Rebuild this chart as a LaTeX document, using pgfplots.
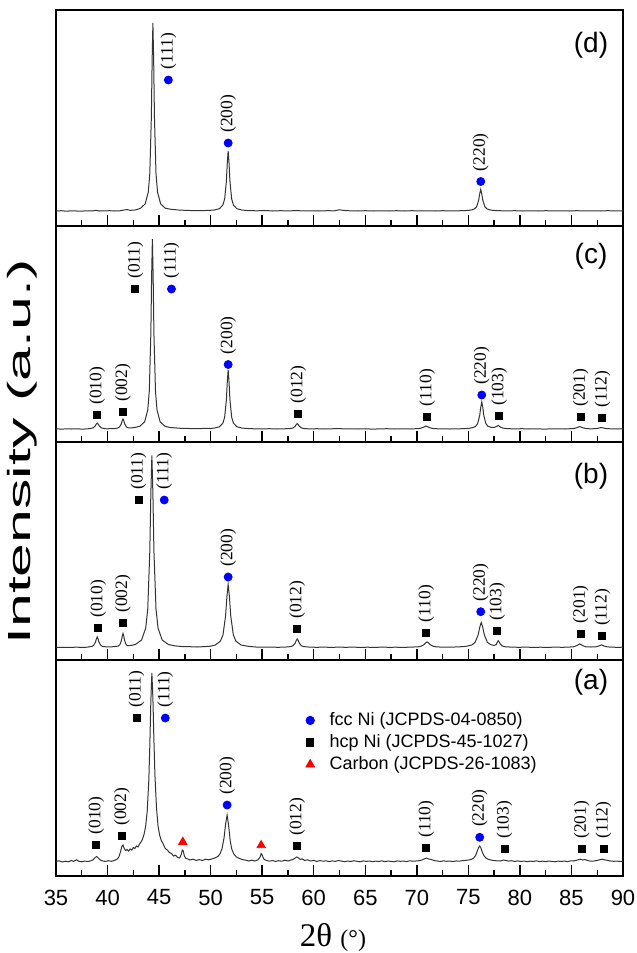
\documentclass[border=0pt]{standalone}
\usepackage{fontspec}
\setmainfont{Liberation Sans}
\newfontfamily\tnr{Liberation Serif}
\usepackage{graphicx}
\usepackage{pgfplots}
\pgfplotsset{compat=1.18}
\pgfplotsset{
  xrd/.style={
    scale only axis, width=283.5pt, height=108pt,
    xmin=35, xmax=90, ymin=0, ymax=216,
    anchor=south west, clip=false,
    axis line style={line width=0.8pt},
    xtick={35,40,...,90}, minor x tick num=1,
    ytick=\empty, xtick pos=left, tick align=inside,
    major tick length=5.5pt, minor tick length=3pt,
    major tick style={line width=0.7pt, black},
    minor tick style={line width=0.7pt, black},
    xticklabels={},
  },
  trace/.style={black!80, line width=0.5pt, mark=none},
  hkl/.style={only marks, nodes near coords, point meta=explicit symbolic,
    every node near coord/.append style={rotate=90, anchor=west, text=black,
      font=\tnr\fontsize{8.7}{9}\selectfont, inner xsep=5pt, inner ysep=0pt}},
  fcc/.style={hkl, mark=*, blue, mark size=2pt},
  hcp/.style={hkl, mark=square*, black, mark size=1.75pt},
}
\begin{document}
\begin{tikzpicture}
\path[use as bounding box] (0,0) rectangle (318.5pt,-476.5pt);
% ---------------- (d) ----------------
\begin{axis}[xrd, at={(28pt,-113pt)}]
\addplot[trace] coordinates {
(35,15.0)(35.5,15.3)(36,14.8)(36.5,15.2)(37,15.0)(37.5,14.9)(38,15.2)(38.5,15.0)(38.9,15.7)(39.2,15.0)
(39.7,15.1)(40.2,15.3)(40.7,15.0)(41.2,15.2)(41.6,16.0)(41.9,16.4)(42.2,15.7)(42.6,15.9)(42.9,16.6)
(43.2,17.8)(43.65,22.1)(43.95,33.8)(44.1,52.6)(44.25,109)(44.325,165.4)(44.4,203)(44.475,165.4)(44.55,109)
(44.7,52.6)(44.85,33.8)(45.15,22.1)(45.6,17.8)(46.2,16.6)(47,15.9)(48,15.5)(49,15.3)(49.7,15.6)
(50.34,15.9)(50.85,17.3)(51.19,21)(51.36,27)(51.53,45)(51.615,63)(51.7,75)(51.785,63)(51.87,45)(52.04,27)
(52.21,21)(52.55,17.3)(53.06,15.9)(53.7,15.4)(54.5,15.2)(55.3,15.5)(56,15.0)(56.8,15.3)(57.5,15.1)
(58.3,15.4)(59,15.1)(59.8,15.2)(60.5,15.0)(61.3,15.3)(62,15.2)(62.5,16.2)(62.9,15.6)(63.5,15.2)(64.3,15.0)
(65,15.3)(65.8,15.0)(66.5,15.2)(67.3,15.0)(68,15.3)(68.8,15.0)(69.5,15.3)(70.3,15.1)(71,15.2)(71.8,15.0)
(72.5,15.3)(73.3,15.1)(74,15.2)(74.6,15.4)(75.0,15.6)(75.4,16.3)(75.6,17.2)(75.8,19.3)(76.0,25.75)
(76.1,32.2)(76.2,36.5)(76.3,32.2)(76.4,25.75)(76.6,19.3)(76.8,17.2)(77.0,16.3)(77.4,15.6)(78,15.3)
(78.7,15.1)(79.5,15.3)(80.2,15.0)(81,15.2)(81.8,15.0)(82.5,15.3)(83.3,15.1)(84,15.2)(84.8,15.0)
(85.5,15.3)(86.3,15.1)(87,15.2)(87.8,15.0)(88.5,15.3)(89.3,15.1)(90,15.2)};
\addplot[fcc] coordinates {(45.9,146) [(111)] (51.7,83) [(200)] (76.2,44.5) [(220)]};
\node[font=\fontsize{14}{14}\selectfont] at (axis cs:86.9,181) {(d)};
\end{axis}
% ---------------- (c) ----------------
\begin{axis}[xrd, at={(28pt,-221pt)}]
\addplot[trace] coordinates {
(35,13.2)(35.5,12.9)(36,13.1)(36.5,13.0)(37,13.2)(37.5,12.9)(38,13.1)
(38.4,13.6)(38.6,14.2)(38.8,16)(38.9,17.8)(39.0,19)(39.1,17.8)(39.2,16)(39.4,14.2)(39.6,13.6)
(39.9,13.2)(40.3,13.3)(40.7,13.5)(40.99,14)(41.16,15)(41.33,18)(41.415,21)(41.5,23)(41.585,21)(41.67,18)
(41.84,15)(42.01,14.2)(42.3,14.1)(42.7,14.6)(43.15,15.9)(43.6,20.2)(43.9,32)(44.05,51)(44.2,108)
(44.275,165)(44.35,203)(44.425,165)(44.5,108)(44.65,51)(44.8,32)(45.1,20.2)(45.55,15.9)(46.0,14.6)
(46.6,14.1)(47.2,13.6)(48,13.5)(48.7,13.3)(49.4,13.6)(50.0,13.6)
(50.34,13.9)(50.85,15.2)(51.19,18.9)(51.36,24.8)(51.53,42.5)(51.615,60.2)(51.7,72)(51.785,60.2)
(51.87,42.5)(52.04,24.8)(52.21,18.9)(52.55,15.2)(53.06,13.9)(53.6,13.5)(54.2,13.2)(55,13.1)(55.7,13.3)
(56.4,13.0)(57.1,13.2)(57.8,13.55)(58.0,14.1)(58.2,15.75)(58.3,17.4)(58.4,18.5)(58.5,17.4)(58.6,15.75)
(58.8,14.1)(59.0,13.55)(59.6,13.1)(60.3,13.3)(61,13.0)(61.7,13.2)(62.4,13.5)(62.9,13.1)(63.6,13.2)
(64.3,13.0)(65,13.2)(65.7,12.9)(66.4,13.1)(67.1,13.3)(67.8,13.0)(68.5,13.2)(69.2,13.1)
(70.0,13.3)(70.3,13.6)(70.6,14.5)(70.9,16)(71.2,14.5)(71.5,13.6)(71.8,13.3)(72.5,13.1)(73.2,13.0)
(73.9,13.2)(74.5,13.3)(75.1,13.7)(75.5,14.6)(75.7,15.7)(75.9,18.4)(76.1,26.5)(76.2,34.6)(76.3,40)
(76.4,34.6)(76.5,26.5)(76.7,18.4)(76.9,15.7)(77.2,14.7)(77.5,14.6)(77.7,15.3)(77.8,16.0)(77.9,16.5)
(78.0,15.8)(78.1,14.9)(78.4,13.8)(78.8,13.4)(79.5,13.1)(80.2,13.3)(80.9,13.0)(81.6,13.2)(82.3,12.9)
(83,13.1)(83.7,13.2)(84.4,13.0)(85.2,13.5)(85.5,14.2)(85.8,15.5)(86.1,14.2)(86.4,13.5)(86.8,13.2)
(87.3,13.3)(87.6,13.8)(87.9,14.5)(88.2,13.8)(88.5,13.3)(89,13.2)(89.5,13.0)(90,13.1)};
\addplot[fcc] coordinates {(46.2,153) [(111)] (51.7,77.5) [(200)] (76.3,47) [(220)]};
\addplot[hcp] coordinates {(39.0,27) [(010)] (41.5,30) [(002)] (42.7,153) [(011)] (58.5,28.4) [(012)]
 (71.0,25.4) [(110)] (78.0,26) [(103)] (85.9,25) [(201)] (88.0,24) [(112)]};
\node[font=\fontsize{14}{14}\selectfont] at (axis cs:86.9,186) {(c)};
\end{axis}
% ---------------- (b) ----------------
\begin{axis}[xrd, height=109pt, ymax=218, at={(28pt,-330pt)}]
\addplot[trace] coordinates {
(35,12.8)(35.5,12.5)(36,12.7)(36.5,12.6)(37,12.9)(37.5,12.5)(38,12.8)
(38.49,13.6)(38.66,14.7)(38.83,17.9)(38.915,21)(39.0,23.1)(39.085,21)(39.17,17.9)(39.34,14.7)(39.51,13.6)
(39.9,13.1)(40.4,13.2)(40.8,13.6)(41.05,14)(41.2,15.4)(41.35,19.6)(41.425,23.8)(41.5,26.6)(41.575,23.8)
(41.65,19.6)(41.8,15.4)(41.95,14.3)(42.3,14.6)(42.7,15.5)(43.3,20)(43.7,31.8)(43.9,51)(44.1,108.6)
(44.2,166)(44.3,204.6)(44.4,166)(44.5,108.6)(44.7,51)(44.9,31.8)(45.3,20)(45.9,15.5)(46.5,14.2)
(47.2,13.5)(48,13.3)(48.7,13.0)(49.4,13.4)(50.0,13.8)(50.45,15)(50.95,18.9)(51.2,25.2)(51.45,44.1)
(51.575,63)(51.7,75.6)(51.825,63)(51.95,44.1)(52.2,25.2)(52.45,18.9)(52.95,15)(53.7,13.6)(54.4,13.0)
(55.1,12.8)(55.8,13.0)(56.5,12.7)(57.2,12.9)(57.8,13.45)(58.0,14.3)(58.2,16.85)(58.3,19.4)(58.4,21.1)
(58.5,19.4)(58.6,16.85)(58.8,14.3)(59.0,13.45)(59.6,12.9)(60.3,12.7)(61,12.9)(61.7,12.6)(62.4,12.9)
(63.1,12.7)(63.8,12.9)(64.5,12.6)(65.2,12.8)(65.9,12.6)(66.6,12.9)(67.3,12.7)(68,12.8)(68.7,12.6)
(69.4,12.9)(70.1,13.15)(70.4,13.7)(70.7,15.35)(70.85,17)(71.0,18.1)(71.15,17)(71.3,15.35)(71.6,13.7)
(71.9,13.15)(72.6,12.8)(73.3,12.9)(74.0,13.1)(74.75,13.6)(75.35,15.1)(75.65,17.6)(75.95,25.1)(76.1,32.6)
(76.25,37.6)(76.4,32.6)(76.55,25.1)(76.85,17.6)(77.15,15.4)(77.5,14.6)(77.7,15.4)(77.8,17.8)(77.9,19.3)
(78.0,17.8)(78.1,16)(78.3,14)(78.6,13.2)(79.2,12.9)(79.9,12.7)(80.6,12.9)(81.3,12.6)(82,12.8)(82.7,12.6)
(83.4,12.9)(84.1,12.7)(84.7,12.9)(85.2,13.2)(85.5,14.35)(85.8,16.1)(86.1,14.35)(86.4,13.2)(86.9,13.0)
(87.3,13.1)(87.6,13.85)(87.9,15.1)(88.2,13.85)(88.5,13.1)(89,12.8)(89.5,12.7)(90,12.8)};
\addplot[fcc] coordinates {(45.5,160) [(111)] (51.7,83) [(200)] (76.2,48.3) [(220)]};
\addplot[hcp] coordinates {(39.1,32) [(010)] (41.5,37) [(002)] (43.0,160) [(011)] (58.4,31) [(012)]
 (70.9,27.4) [(110)] (77.8,29) [(103)] (85.9,26.6) [(201)] (88.0,23.7) [(112)]};
\node[font=\fontsize{14}{14}\selectfont] at (axis cs:86.9,184) {(b)};
\end{axis}
% ---------------- (a) ----------------
\begin{axis}[xrd, at={(28pt,-438pt)},
  xticklabels={35,40,45,50,55,60,65,70,75,80,85,90},
  xticklabel style={font=\fontsize{11}{11}\selectfont, yshift=-3.3pt},
  /pgf/number format/assume math mode=true,
  legend style={at={(axis cs:59.2,168)}, anchor=north west, draw=none, fill=none,
    font=\fontsize{9}{10}\selectfont, row sep=-1pt, inner sep=0pt,
    /tikz/every odd column/.append style={column sep=5.5pt}},
  legend cell align=left,
  legend image code/.code={\draw[#1] plot coordinates {(0pt,0pt)};}]
\addlegendimage{only marks, mark=*, blue, mark size=2.1pt}
\addlegendentry{fcc Ni (JCPDS-04-0850)}
\addlegendimage{only marks, mark=square*, black, mark size=1.8pt}
\addlegendentry{hcp Ni (JCPDS-45-1027)}
\addlegendimage{only marks, mark=triangle*, red, mark size=2.5pt}
\addlegendentry{Carbon (JCPDS-26-1083)}
\addplot[trace, forget plot] coordinates {
(35.0,14.5)(35.3,15.2)(35.6,14.0)(35.9,14.8)(36.2,14.2)(36.5,15.5)(36.7,14.6)(37.0,16.2)(37.2,14.8)
(37.5,14.2)(37.8,15.0)(38.1,14.4)(38.4,15.3)(38.6,16.2)(38.8,18.5)(38.95,19.5)(39.1,18.0)(39.3,16.0)
(39.5,15.1)(39.8,14.6)(40.1,15.3)(40.4,14.7)(40.7,15.8)(40.9,16.6)(41.1,19.0)(41.25,24.0)(41.4,30.0)
(41.5,31.0)(41.6,28.0)(41.75,25.5)(41.9,26.5)(42.05,25.0)(42.2,27.0)(42.35,26.0)(42.5,28.5)(42.65,27.5)
(42.8,30.0)(42.95,29.0)(43.1,32.0)(43.25,34.0)(43.4,37.0)(43.55,42.0)(43.7,50.0)(43.85,65.0)(44.0,95.0)
(44.1,130)(44.2,175)(44.3,203)(44.4,178)(44.5,135)(44.6,100)(44.75,68)(44.9,50)(45.05,41)(45.2,36)
(45.4,32)(45.6,27.5)(45.8,26)(46.0,23.5)(46.2,22.5)(46.4,20.0)(46.6,20.8)(46.8,18.5)(47.0,18.0)
(47.15,21.5)(47.25,26.0)(47.35,25.0)(47.45,20.0)(47.6,17.5)(47.8,17.0)(48.0,16.0)(48.3,16.8)(48.6,15.6)
(48.9,16.4)(49.2,15.5)(49.5,16.8)(49.8,16.2)(50.1,17.0)(50.4,18.0)(50.7,19.5)(50.9,22)(51.1,27)(51.3,38)
(51.45,52)(51.6,61)(51.75,50)(51.9,35)(52.05,27)(52.25,22)(52.5,19)(52.8,17.5)(53.1,16.4)(53.4,15.8)
(53.7,15.0)(54.0,15.8)(54.3,15.0)(54.6,16.2)(54.8,19.0)(54.9,22.5)(55.0,21.0)(55.15,17.0)(55.4,15.6)
(55.7,14.8)(56.0,15.5)(56.3,14.6)(56.6,15.3)(56.9,14.8)(57.2,15.8)(57.5,15.0)(57.8,16.0)(58.0,16.6)
(58.2,18.0)(58.35,19.0)(58.5,18.2)(58.7,16.5)(58.9,17.2)(59.1,15.6)(59.4,16.2)(59.7,15.0)(60.0,15.6)
(60.3,14.6)(60.6,15.4)(60.9,14.8)(61.2,15.2)(61.5,14.4)(61.8,15.1)(62.1,14.6)(62.4,15.5)(62.7,14.9)
(63.0,14.3)(63.3,15.0)(63.6,14.5)(63.9,15.3)(64.2,14.7)(64.5,14.2)(64.8,15.1)(65.1,14.6)(65.4,15.0)
(65.7,14.3)(66.0,14.9)(66.3,14.5)(66.6,15.2)(66.9,14.4)(67.2,15.0)(67.5,14.6)(67.8,14.2)(68.1,15.1)
(68.4,14.7)(68.7,15.0)(69.0,14.4)(69.3,15.2)(69.6,14.8)(69.9,15.0)(70.2,15.3)(70.5,16.0)(70.75,17.2)
(70.95,18.0)(71.15,17.0)(71.4,16.5)(71.7,15.4)(72.0,15.0)(72.3,14.5)(72.6,15.2)(72.9,14.7)(73.2,15.0)
(73.5,14.4)(73.8,15.1)(74.1,14.8)(74.4,15.3)(74.7,15.6)(75.0,16.0)(75.3,16.6)(75.5,17.8)(75.7,20.5)
(75.85,24.5)(76.0,28.5)(76.1,30.0)(76.2,28.5)(76.35,24.0)(76.5,20.5)(76.7,18.0)(76.9,16.8)(77.2,16.0)
(77.5,15.4)(77.8,15.2)(78.1,15.0)(78.4,16.0)(78.6,15.6)(78.9,14.9)(79.2,15.3)(79.5,14.6)(79.8,15.1)
(80.1,14.5)(80.4,15.0)(80.7,14.3)(81.0,14.9)(81.3,14.5)(81.6,15.2)(81.9,14.4)(82.2,14.9)(82.5,14.3)
(82.8,15.0)(83.1,14.6)(83.4,14.2)(83.7,14.9)(84.0,14.5)(84.3,15.0)(84.6,14.4)(84.9,15.1)(85.2,15.0)
(85.5,15.8)(85.7,16.4)(85.9,16.8)(86.1,16.0)(86.3,16.5)(86.6,15.4)(86.9,14.8)(87.2,15.0)(87.5,15.6)
(87.8,16.4)(88.0,16.8)(88.2,16.2)(88.5,15.6)(88.8,15.0)(89.1,14.7)(89.4,15.0)(89.7,14.5)(90.0,14.8)};
\addplot[fcc, forget plot] coordinates {(45.6,158) [(111)] (51.6,71) [(200)] (76.1,38.7) [(220)]};
\addplot[hcp, forget plot] coordinates {(38.9,31.3) [(010)] (41.4,40) [(002)] (42.8,158) [(011)] (58.4,30) [(012)]
 (70.9,28) [(110)] (78.5,27) [(103)] (86.0,27) [(201)] (88.1,27) [(112)]};
\addplot[only marks, mark=triangle*, red, mark size=2.4pt, forget plot] coordinates {(47.3,34) (54.9,30.7)};
\node[font=\fontsize{14}{14}\selectfont] at (axis cs:86.9,194) {(a)};
\end{axis}
% axis titles
\node[rotate=90, font=\fontsize{16}{16}\selectfont] at (11pt,-226pt) {\scalebox{1.9}[1]{Intensity (a.u.)}};
\node[font=\tnr] at (166.5pt,-469pt) {\fontsize{16.5}{16.5}\selectfont 2θ \fontsize{12}{12}\selectfont(°)};
\end{tikzpicture}
\end{document}
